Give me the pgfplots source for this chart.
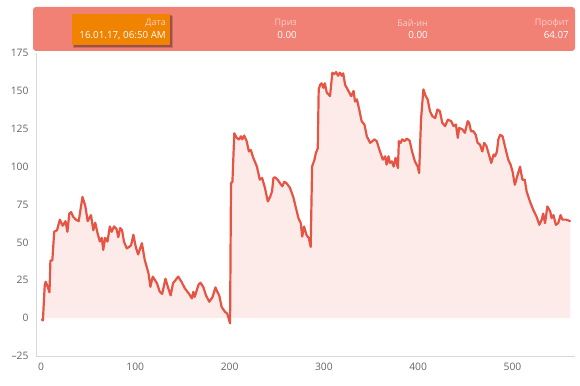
\documentclass[border=0pt]{standalone}
\usepackage{fontspec}
\setmainfont{Open Sans}
\usepackage{pgfplots}
\usepackage{pgfplotstable}
\pgfplotsset{compat=1.18}
\definecolor{linec}{RGB}{230,84,68}
\definecolor{fillc}{RGB}{253,235,233}
\definecolor{bannerc}{RGB}{241,128,117}
\definecolor{orangec}{RGB}{240,131,0}
\definecolor{tickc}{RGB}{100,100,100}
\definecolor{axisc}{RGB}{210,216,228}
\definecolor{palec}{RGB}{252,208,200}

\pgfplotstableread{
x y
1 -1
2 -1.5
4 22
5 24
7 21
9 17
10 38
12 38
14 57
17 58
20 65
23 61
26 64
28 57
30 69
32 70
34 67
37 65
40 64
44 80
47 74
49.5 64
53 68
55.5 58
57.5 63
60 56
62.5 50.5
64.5 53
66 45
68 53
70.5 50.5
73 60.5
75 57
77.5 60.5
80 59
82 53.5
84 59.5
86 58
88 50.5
91 46
93.5 47
95.5 48
98 55
100.5 47
103 42
107 49.5
110 38.5
114 29.6
116 20.7
118.5 27.4
121 25
123 23
126 17.4
128.5 16
132 26
135 19.7
137.5 15
140 23
145.5 27.4
149 24
152.5 19.7
157 16
160 13
161.5 17.4
163 14
167 22
169 23.4
172 20.7
175 15
178.5 10.8
182 14
185 20.3
187 17.4
189 15
191.5 7.5
195 4.2
197.5 3
200.5 -3.5
201.5 89
203 90
205 122
207.5 119
210 118
212 120
213.5 118
215.5 120.5
218 117
220.5 110
222.5 111
225 106
229 100
232 91.4
234.5 92.5
237.5 86
240.5 77
243 80
245 83.6
246.5 92.5
248 93
251 91.4
253.5 89
256 87
258 90
260.5 89
264 86
267.5 80
270 73.7
273 66
275.5 62.7
277 53.8
279 60.5
281.5 55
284 52.8
286 47
287.5 100
290 104.6
291.5 109
293.5 112
294.5 151
296 154
297.5 155
299.5 152
301 155
303 149
306.5 146.5
309 162
311 161
313 162.4
315 160
317 162
319 160
320.5 161.6
322.5 154
326 150
329 146.5
331.5 150
333 143
335 144.4
337.5 137.7
340 130
343 127.8
345.5 120
349 115.7
351.5 116.8
353.5 118
356 116.8
359.5 110
362.5 104.6
365 106.8
366.5 101.3
368.5 106.8
370 102.4
372 103.5
374 100
376 105.8
378.5 99
379.5 116.8
381.5 115.7
383 118
385.5 116.8
388 118.5
391 117
393.5 110
396.5 103.5
399.5 100
401 95.8
403 131
405.5 151
408 146.5
410 144.4
412.5 136.6
415 133.3
418 132
420.5 137.7
423 136.6
425.5 129
428.5 126.7
431.5 131
435 130
437.5 126.7
440 127.8
442 119
443.5 125.6
447 124.5
449.5 122.3
452.5 130
454 129
456 123.4
458.5 123.4
461 121
463 115.7
465.5 114.6
468 110
470 115.7
472.5 113.4
474.5 109
477.5 102.4
480 108
481.5 106.8
483.5 110
485 118
487 121
489.5 120
492 113.4
495.5 104.6
498 101.3
500 97
502.5 88
505 93.6
508 100
510.5 91.4
513 91.4
515 83.6
518.5 77
522 71.5
525.5 67
528.5 61.6
531 65
532.5 69
534.5 62.7
537 73.7
540 70.4
541.5 66
543.5 68
546 61.6
548.5 62.7
551 68
553 65
557 65
561 64.07
}\profit

\begin{document}
\begin{tikzpicture}[x=1pt,y=1pt]
\useasboundingbox (0,0) rectangle (580,385);
\begin{axis}[
  at={(36pt,29pt)}, anchor=south west,
  scale only axis, width=539pt, height=303pt,
  xmin=-5.3, xmax=566.3, ymin=-25, ymax=175,
  axis x line*=bottom, axis y line*=left,
  axis line style={axisc, line width=0.8pt},
  major tick length=0pt,
  xtick={0,100,200,300,400,500},
  xticklabels={0,100,200,300,400,500},
  ytick={-25,0,25,50,75,100,125,150,175},
  yticklabels={–25,0,25,50,75,100,125,150,175},
  tick label style={font=\fontsize{10.3}{12}\selectfont, text=tickc},
  yticklabel style={xshift=-4pt},
  xticklabel style={yshift=-3pt},
  clip=false,
]
\addplot[draw=none, fill=fillc] table[x=x,y=y]{\profit} \closedcycle;
\addplot[linec, line width=2.2pt, line join=round, line cap=round] table[x=x,y=y]{\profit};
\end{axis}
% header banner
\fill[bannerc, rounded corners=3pt] (33,334) rectangle (575,378);
\fill[black, opacity=0.15] (73,337) rectangle (173,369);
\fill[black, opacity=0.25] (73.5,338) rectangle (172,369.5);
\fill[orangec] (72,340) rectangle (170,371);
\node[anchor=east, text=palec, font=\fontsize{9}{10}\selectfont, inner sep=0] at (166,362) {Дата};
\node[anchor=east, text=white, font=\fontsize{9.8}{11}\selectfont, inner sep=0] at (166,349.5) {16.01.17, 06:50 AM};
\node[anchor=east, text=palec, font=\fontsize{9}{10}\selectfont, inner sep=0] at (297,362) {Приз};
\node[anchor=east, text=white, font=\fontsize{9.8}{11}\selectfont, inner sep=0] at (297,349.5) {0.00};
\node[anchor=east, text=palec, font=\fontsize{9}{10}\selectfont, inner sep=0] at (428,362) {Бай-ин};
\node[anchor=east, text=white, font=\fontsize{9.8}{11}\selectfont, inner sep=0] at (428,349.5) {0.00};
\node[anchor=east, text=palec, font=\fontsize{9}{10}\selectfont, inner sep=0] at (569,362) {Профит};
\node[anchor=east, text=white, font=\fontsize{9.8}{11}\selectfont, inner sep=0] at (569,349.5) {64.07};
\end{tikzpicture}
\end{document}
